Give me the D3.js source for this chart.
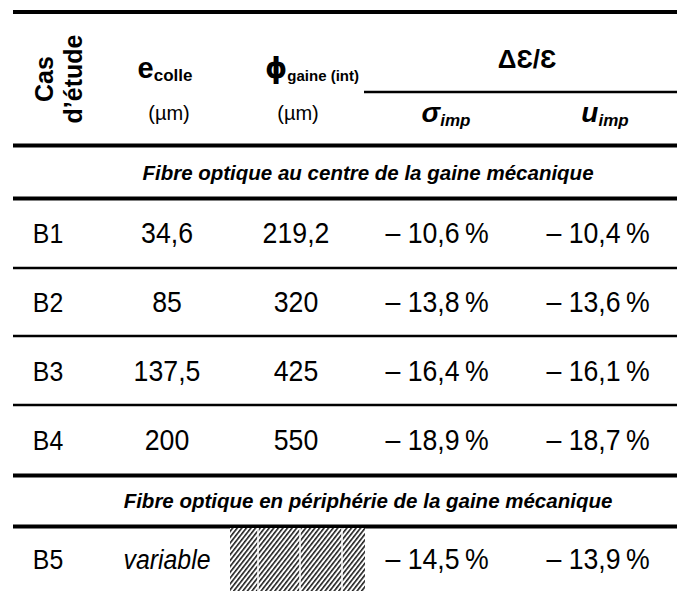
<!DOCTYPE html>
<html>
<head>
<meta charset="utf-8">
<script src="https://cdn.jsdelivr.net/npm/d3@7"></script>
<style>
  body { margin: 0; background: #fff; }
  svg { display: block; font-family: "Liberation Sans", Arial, sans-serif; }
</style>
</head>
<body>
<div id="table"></div>
<script>
var width = 677, height = 591;

// table data
var cases = ["B1", "B2", "B3", "B4", "B5"];
var eColle = ["34,6", "85", "137,5", "200", "variable"];
var phiGaine = ["219,2", "320", "425", "550", null];
var sigmaImp = [-10.6, -13.8, -16.4, -18.9, -14.5];
var uImp = [-10.4, -13.6, -16.1, -18.7, -13.9];
var sections = ["Fibre optique au centre de la gaine mécanique",
                "Fibre optique en périphérie de la gaine mécanique"];

var svg = d3.select("#table").append("svg")
    .attr("width", width)
    .attr("height", height);

// column centres
var columns = ["cas", "e", "phi", "sigma", "u"];
var colX = d3.scaleOrdinal().domain(columns).range([48, 167, 296, 437, 598]);
var left = 13, right = width;

// row slots from top to bottom
var slots = ["sec0", "B1", "B2", "B3", "B4", "sec1", "B5"];
var slotH = {sec0: 51, B1: 70, B2: 68, B3: 69, B4: 70, sec1: 51, B5: 66};
var slotY = {}, y = 147;
slots.forEach(function(s) { slotY[s] = {y0: y, y1: y + slotH[s]}; y += slotH[s]; });

function fmtPct(v) {
    return "\u2013 " + Math.abs(v).toFixed(1).replace(".", ",") + "\u2009%";
}

// narrow text helper: horizontal squeeze around the anchor point
function cell(g, x, y, txt, opts) {
    opts = opts || {};
    var sx = opts.sx || 0.92;
    return g.append("text")
        .attr("transform", "translate(" + x + "," + y + ") scale(" + sx + ",1)")
        .attr("text-anchor", "middle")
        .attr("font-size", opts.size || 29)
        .attr("font-style", opts.italic ? "italic" : null)
        .text(txt);
}

// ---- rules ----
function rule(y, w, x0) {
    svg.append("line")
        .attr("x1", x0 || left).attr("x2", right)
        .attr("y1", y).attr("y2", y)
        .attr("stroke", "#000").attr("stroke-width", w);
}
rule(12, 4);
rule(92, 2.5, 364);
rule(145.5, 4);
slots.forEach(function(s, i) {
    if (i === 0) return;
    var prev = slots[i - 1];
    var thick = s.indexOf("sec") === 0 || prev.indexOf("sec") === 0;
    rule(slotY[s].y0 + (thick ? 0.5 : 0), thick ? 4 : 2.5);
});

// ---- header ----
var hdr = svg.append("g").attr("font-weight", "bold").attr("fill", "#000");

hdr.append("text")
    .attr("transform", "translate(53,79) rotate(-90)")
    .attr("text-anchor", "middle")
    .attr("font-size", 25)
    .text("Cas");
hdr.append("text")
    .attr("transform", "translate(82,79) rotate(-90)")
    .attr("text-anchor", "middle")
    .attr("font-size", 25)
    .text("d\u2019étude");

var eT = hdr.append("text").attr("x", 165).attr("y", 78).attr("text-anchor", "middle");
eT.append("tspan").attr("font-size", 29).text("e");
eT.append("tspan").attr("font-size", 17).attr("dy", 3).text("colle");

var pT = hdr.append("text").attr("x", 312).attr("y", 78).attr("text-anchor", "middle");
pT.append("tspan").attr("font-size", 28).attr("font-family", "DejaVu Sans").text("\u03d5");
pT.append("tspan").attr("font-size", 15).attr("dy", 3).text("gaine (int)");

svg.selectAll(".unit").data(["e", "phi"]).join("text")
    .attr("class", "unit")
    .attr("x", function(d) { return colX(d) + 2; })
    .attr("y", 120)
    .attr("text-anchor", "middle")
    .attr("font-size", 20)
    .text("(\u00b5m)");

hdr.append("text")
    .attr("x", 527).attr("y", 68)
    .attr("text-anchor", "middle")
    .attr("font-size", 26)
    .text("\u0394\u0190/\u0190");

[["sigma", "\u03c3", 446], ["u", "u", 605]].forEach(function(c) {
    var t = hdr.append("text").attr("x", c[2]).attr("y", 122)
        .attr("text-anchor", "middle").attr("font-style", "italic");
    t.append("tspan").attr("font-size", 28).text(c[1]);
    t.append("tspan").attr("font-size", 17).attr("dy", 4).text("imp");
});

// ---- section titles ----
sections.forEach(function(s, i) {
    var sl = slotY["sec" + i];
    svg.append("text")
        .attr("x", 368).attr("y", (sl.y0 + sl.y1) / 2 + 7)
        .attr("text-anchor", "middle")
        .attr("font-size", 20.5)
        .attr("font-weight", "bold")
        .attr("font-style", "italic")
        .text(s);
});

// ---- hatch pattern ----
var defs = svg.append("defs");
var pat = defs.append("pattern")
    .attr("id", "hatch").attr("patternUnits", "userSpaceOnUse")
    .attr("width", 3.6).attr("height", 8)
    .attr("patternTransform", "rotate(38)");
pat.append("rect").attr("width", 3.6).attr("height", 8).attr("fill", "#fff");
pat.append("line").attr("x1", 0.8).attr("y1", 0).attr("x2", 0.8).attr("y2", 8)
    .attr("stroke", "#111").attr("stroke-width", 1.5);

// ---- body rows ----
var rows = cases.map(function(c, i) {
    return {cas: c, e: eColle[i], phi: phiGaine[i], sigma: sigmaImp[i], u: uImp[i]};
});

rows.forEach(function(r) {
    var sl = slotY[r.cas];
    var cy = (sl.y0 + sl.y1) / 2 + 10;
    var g = svg.append("g");
    cell(g, colX("cas"), cy, r.cas, {size: 27});
    cell(g, colX("e"), cy, r.e, {italic: r.e === "variable", size: r.e === "variable" ? 27 : 29});
    if (r.phi !== null) {
        cell(g, colX("phi"), cy, r.phi);
    } else {
        var hx0 = 230, hx1 = 365;
        svg.append("rect")
            .attr("x", hx0).attr("y", sl.y0 + 2)
            .attr("width", hx1 - hx0).attr("height", height - sl.y0)
            .attr("fill", "url(#hatch)");
        d3.range(hx0 + 28, hx1, 42).forEach(function(gx) {
            svg.append("line").attr("x1", gx).attr("x2", gx)
                .attr("y1", sl.y0 + 2).attr("y2", height)
                .attr("stroke", "#fff").attr("stroke-width", 1.5);
        });
    }
    cell(g, colX("sigma"), cy, fmtPct(r.sigma));
    cell(g, colX("u"), cy, fmtPct(r.u));
});
</script>
</body>
</html>
